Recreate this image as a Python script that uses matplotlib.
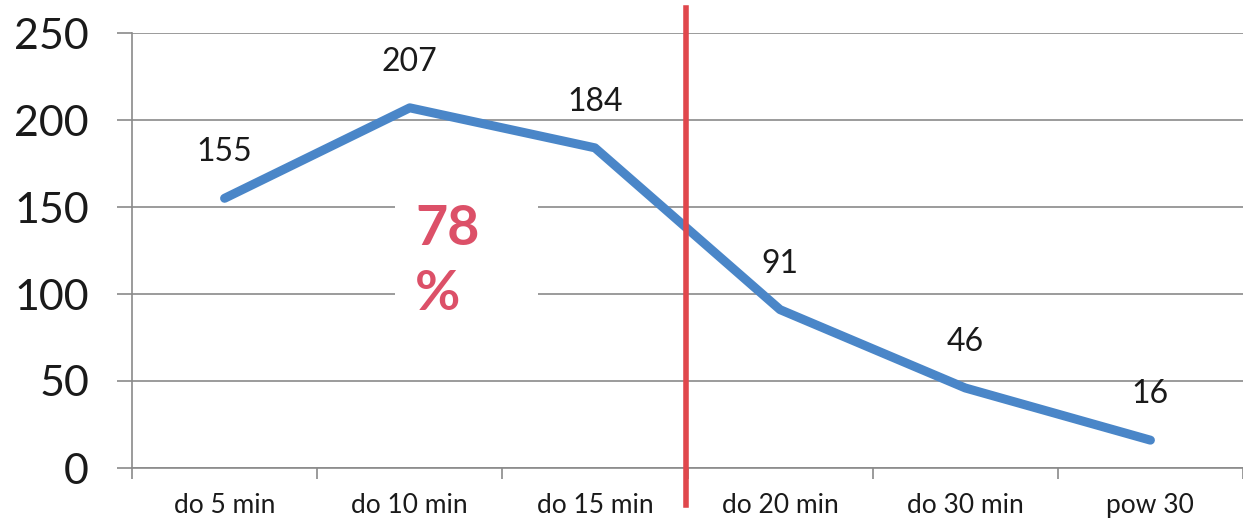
import matplotlib.pyplot as plt
from matplotlib.patches import Rectangle

plt.rcParams['font.family'] = ['Lato', 'DejaVu Sans']

# Data
categories = ["do 5 min", "do 10 min", "do 15 min", "do 20 min", "do 30 min", "pow 30"]
values = [155, 207, 184, 91, 46, 16]
y_ticks = [0, 50, 100, 150, 200, 250]
share_label = "78"

grid_col = "#8a8a8a"
line_col = "#4a86c8"
red_col = "#e0474c"
pink_col = "#dc5068"
text_col = "#1a1a1a"

fig = plt.figure(figsize=(12.43, 5.24), dpi=100)
ax = fig.add_axes([132 / 1243, 56 / 524, 1111 / 1243, 435 / 524])

x = list(range(len(categories)))
ax.plot(x, values, color=line_col, lw=6.5, solid_capstyle="round",
        solid_joinstyle="round", zorder=4)

# data labels above each point
for xi, v in zip(x, values):
    ax.annotate(str(v), (xi, v), xytext=(0, 33), textcoords="offset points",
                ha="center", va="center", fontsize=23, color=text_col, zorder=5)

ax.set_xlim(-0.5, 5.44)
ax.set_ylim(0, 250)
ax.set_yticks(y_ticks)
ax.set_yticklabels([str(t) for t in y_ticks], fontsize=31, color=text_col)
ax.grid(axis="y", color=grid_col, lw=1.2, zorder=1)

# category labels between boundary ticks
ax.set_xticks([i - 0.5 for i in range(len(categories) + 1)])
ax.set_xticklabels([])
ax.set_xticks(x, minor=True)
ax.set_xticklabels(categories, minor=True, fontsize=19, color=text_col)
ax.tick_params(axis="x", which="minor", length=0, pad=18)
ax.tick_params(axis="x", which="major", length=8, color=grid_col, width=1.2)
ax.tick_params(axis="y", length=11, color=grid_col, width=1.2, pad=20)

for s in ["top", "right"]:
    ax.spines[s].set_visible(False)
ax.spines["left"].set_color(grid_col)
ax.spines["bottom"].set_color(grid_col)
ax.spines["left"].set_linewidth(1.2)
ax.spines["bottom"].set_linewidth(1.2)

# white box behind the percentage
ax.add_patch(Rectangle((0.92, 86), 0.77, 78, facecolor="white",
                       edgecolor="none", zorder=2))
ax.text(1.03, 128, share_label, fontsize=40, fontweight="bold",
        color=pink_col, ha="left", va="baseline", zorder=3)
ax.text(1.03, 91, "%", fontsize=40, fontweight="bold",
        color=pink_col, ha="left", va="baseline", zorder=3)

# red split line
ax.axvline(2.49, ymin=-0.085, ymax=1.057, color=red_col, lw=4,
           clip_on=False, zorder=6)

fig.savefig("out.png", dpi=100)
